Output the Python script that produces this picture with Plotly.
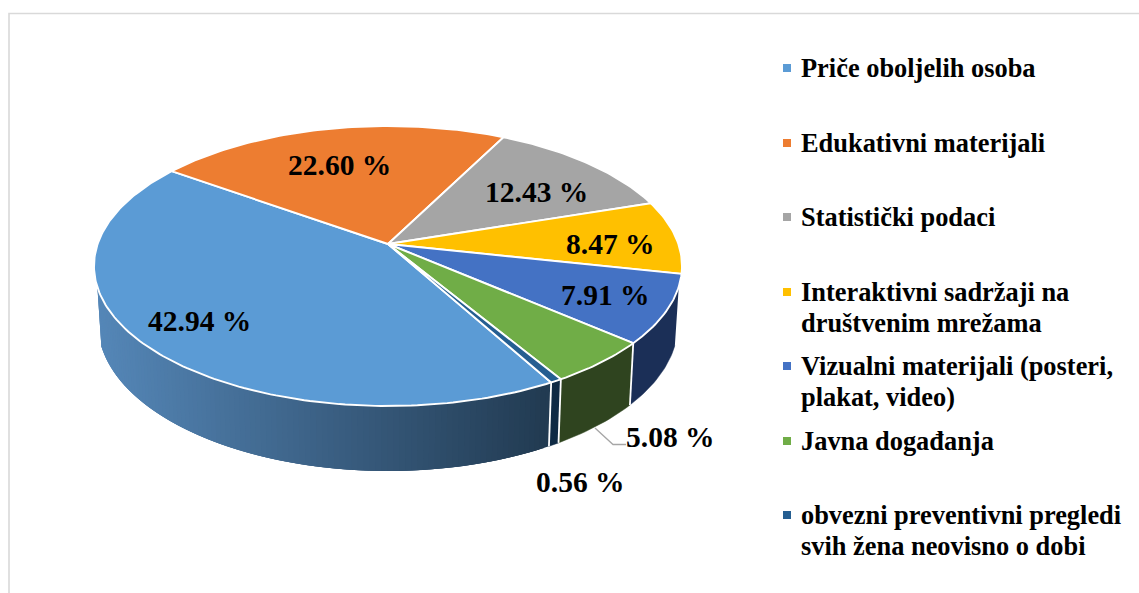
import math
import plotly.graph_objects as go

categories = ["Priče oboljelih osoba", "Edukativni materijali", "Statistički podaci",
              "Interaktivni sadržaji na<br>društvenim mrežama",
              "Vizualni materijali (posteri,<br>plakat, video)", "Javna događanja",
              "obvezni preventivni pregledi<br>svih žena neovisno o dobi"]
values = [42.94, 22.60, 12.43, 8.47, 7.91, 5.08, 0.56]
value_labels = ["42.94 %", "22.60 %", "12.43 %", "8.47 %", "7.91 %", "5.08 %", "0.56 %"]
colors = ["#5B9BD5", "#ED7D31", "#A5A5A5", "#FFC000", "#4472C4", "#70AD47", "#255E91"]
rim_colors = [None, "#8A4A1D", "#616161", "#997300", "#1B2F57", "#2F441F", "#0F2A44"]
label_pos = [(199, 321), (339, 165), (536, 192), (610, 244), (605, 295), (670, 437), (580, 482)]
legend_y = [68, 143, 217, 292, 366, 441, 515]

START = 151.0
CX = 388
P = 0.157
TOP = dict(a=294, yc=266, b=140)
BOT = dict(a=290, yc=324, b=147)
APEX_Y = 244
FONT = "Liberation Serif"


def project(theta, e):
    t = math.radians(theta)
    u, v = math.sin(t), math.cos(t)
    d = 1 + P * v
    X = math.sqrt(1 - P * P) * u / d
    Y = -(P + v) / d
    return CX + e["a"] * X, e["yc"] + e["b"] * Y, Y


def lerp_color(t):
    a, b = (85, 135, 184), (34, 59, 82)
    return "rgb(%d,%d,%d)" % tuple(round(a[i] + (b[i] - a[i]) * t) for i in range(3))


fig = go.Figure()


def poly(xs, ys, fill, line="rgba(0,0,0,0)", width=0):
    fig.add_trace(go.Scatter(x=xs, y=ys, mode="lines", fill="toself", fillcolor=fill,
                             line=dict(color=line, width=width), hoverinfo="skip", showlegend=False))


total = sum(values)
angles = [START]
for val in values:
    angles.append(angles[-1] + val / total * 360)

# rim
MIN_Y = 0.14
for i, col in enumerate(rim_colors):
    a0, a1 = angles[i], angles[i + 1]
    n = max(2, int((a1 - a0) / 1.0))
    th = [a0 + (a1 - a0) * k / n for k in range(n + 1)]
    vis = [t for t in th if project(t, TOP)[2] >= MIN_Y]
    if len(vis) < 2:
        continue
    if col is None:
        # painted from the far (dark) end so every band overlaps the next one, leaving no seams
        for k in range(len(vis) - 1):
            t0 = vis[k]
            t1 = vis[min(k + 3, len(vis) - 1)]
            mid = project((vis[k] + vis[k + 1]) / 2, TOP)[0]
            c = lerp_color((min(545, max(95, mid)) - 95) / 450)
            arc = [t0 + (t1 - t0) * j / 3 for j in range(4)]
            tp = [project(t, TOP) for t in arc]
            bt = [project(t, BOT) for t in reversed(arc)]
            poly([q[0] for q in tp + bt], [q[1] for q in tp + bt], c)
    else:
        tp = [project(t, TOP) for t in vis]
        bt = [project(t, BOT) for t in reversed(vis)]
        poly([q[0] for q in tp + bt], [q[1] for q in tp + bt], col, col, 0.5)

# rim dividers
for t in angles[4:7] + [angles[7]]:
    a, b = project(t, TOP), project(t, BOT)
    fig.add_trace(go.Scatter(x=[a[0], b[0]], y=[a[1], b[1]], mode="lines",
                             line=dict(color="white", width=1.8), hoverinfo="skip", showlegend=False))

# top faces
for i, col in enumerate(colors):
    a0, a1 = angles[i], angles[i + 1]
    n = max(3, int((a1 - a0) / 1))
    pts = [project(a0 + (a1 - a0) * k / n, TOP) for k in range(n + 1)]
    poly([CX] + [q[0] for q in pts] + [CX], [APEX_Y] + [q[1] for q in pts] + [APEX_Y], col, "white", 1.9)

# leader line for the small slice label
fig.add_trace(go.Scatter(x=[595, 613, 626], y=[428, 444.5, 444.5], mode="lines",
                         line=dict(color="#A6A6A6", width=1.3), hoverinfo="skip", showlegend=False))

# legend markers
fig.add_trace(go.Scatter(x=[787] * len(colors), y=legend_y, mode="markers",
                         marker=dict(symbol="square", size=8, color=colors, line=dict(width=0)),
                         hoverinfo="skip", showlegend=False))

# frame
fig.add_trace(go.Scatter(x=[9, 9, 1139], y=[593, 13.5, 13.5], mode="lines",
                         line=dict(color="#D9D9D9", width=1.6), hoverinfo="skip", showlegend=False))

for txt, (x, y) in zip(value_labels, label_pos):
    fig.add_annotation(x=x, y=y, text=f"<b>{txt}</b>", showarrow=False, xanchor="center", yanchor="middle",
                       font=dict(family=FONT, size=29.5, color="black"))

LINE_H = 31
for name, y in zip(categories, legend_y):
    for j, line in enumerate(name.split("<br>")):
        fig.add_annotation(x=799, y=y + j * LINE_H, text=f"<b>{line}</b>", showarrow=False,
                           xanchor="left", yanchor="middle", align="left",
                           font=dict(family=FONT, size=26.4, color="black"))

fig.update_layout(width=1139, height=593, margin=dict(l=0, r=0, t=0, b=0),
                  paper_bgcolor="white", plot_bgcolor="white", showlegend=False,
                  xaxis=dict(range=[0, 1139], visible=False, fixedrange=True),
                  yaxis=dict(range=[593, 0], visible=False, fixedrange=True))
fig.write_html("out.html", config=dict(displayModeBar=False),
               post_script="document.body.style.margin='0';document.body.style.overflow='hidden';")
